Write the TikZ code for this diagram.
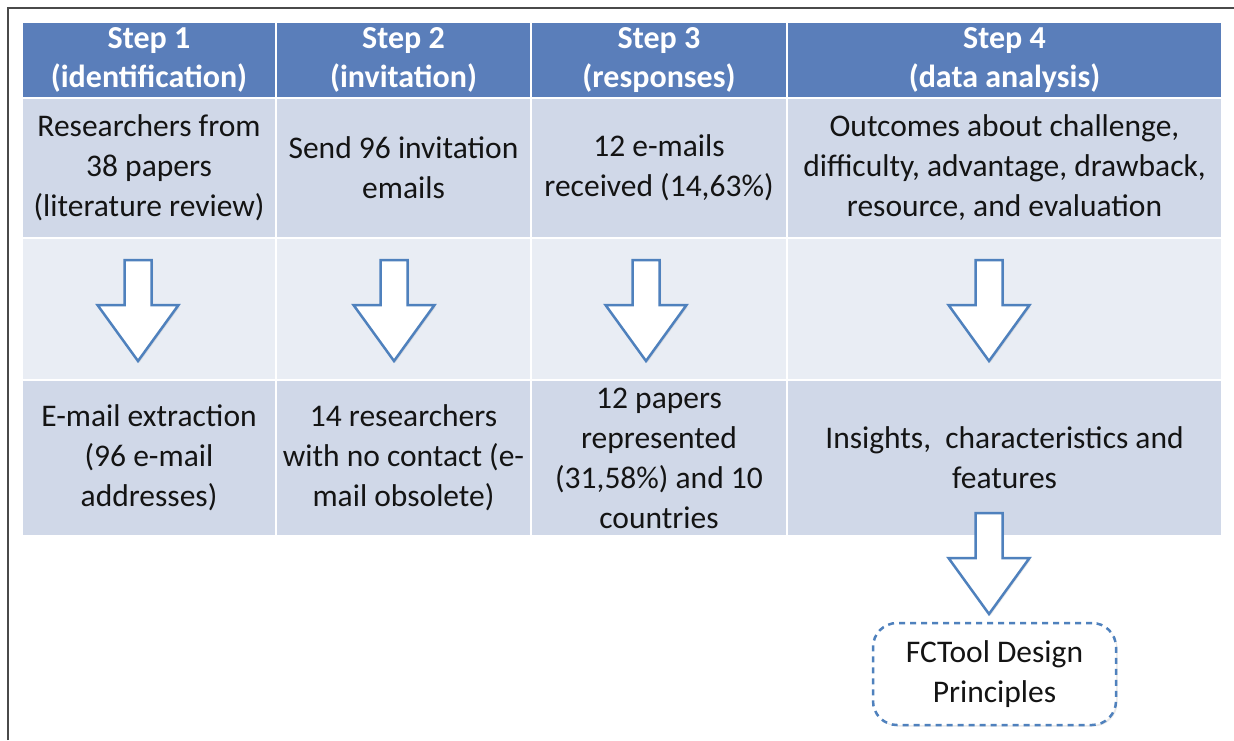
\documentclass[tikz,border=0pt]{standalone}
\usepackage{fontspec}
\setmainfont{Carlito}
\usetikzlibrary{shadows}

\definecolor{hdrblue}{HTML}{5A7EBA}
\definecolor{cellblue}{HTML}{D0D8E8}
\definecolor{paleblue}{HTML}{E9EDF4}
\definecolor{arrowblue}{HTML}{4F81BD}
\definecolor{framegray}{HTML}{4A4A4A}
\definecolor{inkdark}{HTML}{141414}

\tikzset{
  cell/.style={draw=white, line width=2pt, inner sep=0pt, align=center,
    text=inkdark, font=\fontsize{31.5}{40}\selectfont},
  hdrcell/.style={cell, fill=hdrblue, text=white,
    font=\fontsize{32}{39}\selectfont\bfseries, minimum height=76pt},
  textcell/.style={cell, fill=cellblue},
  palecell/.style={cell, fill=paleblue, minimum height=142pt},
  wA/.style={minimum width=254pt},
  wB/.style={minimum width=255pt},
  wC/.style={minimum width=256pt},
  wD/.style={minimum width=435pt},
  flowarrow/.style={fill=white, draw=arrowblue, line width=2.5pt, line join=miter,
    drop shadow={opacity=0.18, shadow xshift=1.5pt, shadow yshift=-1.5pt}},
  blockarrow/.pic={
    \draw[flowarrow] (-13.5,0) -- (13.5,0) -- (13.5,45) -- (40.5,45)
      -- (0,101) -- (-40.5,45) -- (-13.5,45) -- cycle;
  },
  dashbox/.style={draw=arrowblue, fill=white, line width=2.5pt, dashed,
    dash pattern=on 6pt off 5pt, rounded corners=24pt,
    minimum width=243pt, minimum height=102pt, align=center, text=inkdark,
    font=\fontsize{31.5}{40}\selectfont,
    drop shadow={opacity=0.18, shadow xshift=1.5pt, shadow yshift=-1.5pt}},
}

\begin{document}
\begin{tikzpicture}[x=1pt, y=-1pt]
  \fill[white] (0,0) rectangle (1234,740);
  \useasboundingbox (0,0) rectangle (1234,740);

  % outer frame (top and left rules)
  \coordinate (frameBL) at (8,740);
  \coordinate (frameTL) at (8,8);
  \coordinate (frameTR) at (1234,8);
  \draw[framegray, line width=1.5pt] (frameBL) -- (frameTL) -- (frameTR);

  % header row
  \node[hdrcell, wA] (h1) at (149,60)    {Step 1\\(identification)};
  \node[hdrcell, wB] (h2) at (403.5,60)  {Step 2\\(invitation)};
  \node[hdrcell, wC] (h3) at (659,60)    {Step 3\\(responses)};
  \node[hdrcell, wD] (h4) at (1004.5,60) {Step 4\\(data analysis)};

  % first row of descriptions
  \node[textcell, wA, minimum height=140pt] (a1) at (149,168)
    {Researchers from\\38 papers\\(literature review)};
  \node[textcell, wB, minimum height=140pt] (a2) at (403.5,168)
    {Send 96 invitation\\emails};
  \node[textcell, wC, minimum height=140pt] (a3) at (659,168)
    {12 e-mails\\received (14,63\%)};
  \node[textcell, wD, minimum height=140pt] (a4) at (1004.5,168)
    {Outcomes about challenge,\\difficulty, advantage, drawback,\\resource, and evaluation};

  % arrow row
  \node[palecell, wA] (m1) at (149,309) {};
  \node[palecell, wB] (m2) at (403.5,309) {};
  \node[palecell, wC] (m3) at (659,309) {};
  \node[palecell, wD] (m4) at (1004.5,309) {};

  % second row of descriptions
  \node[textcell, wA, minimum height=156pt] (b1) at (149,458)
    {E-mail extraction\\(96 e-mail\\addresses)};
  \node[textcell, wB, minimum height=156pt] (b2) at (403.5,458)
    {14 researchers\\with no contact (e-\\mail obsolete)};
  \node[textcell, wC, minimum height=156pt] (b3) at (659,458)
    {12 papers\\represented\\(31,58\%) and 10\\countries};
  \node[textcell, wD, minimum height=156pt] (b4) at (1004.5,458)
    {Insights,\ \ characteristics and\\features};

  % block arrows between the rows
  \pic at (138,260) {blockarrow};
  \pic at (394,260) {blockarrow};
  \pic at (646,260) {blockarrow};
  \pic at (989,260) {blockarrow};

  % final outcome
  \pic at (989,513) {blockarrow};
  \node[dashbox] (fc) at (994.5,674) {FCTool Design\\Principles};
\end{tikzpicture}
\end{document}
